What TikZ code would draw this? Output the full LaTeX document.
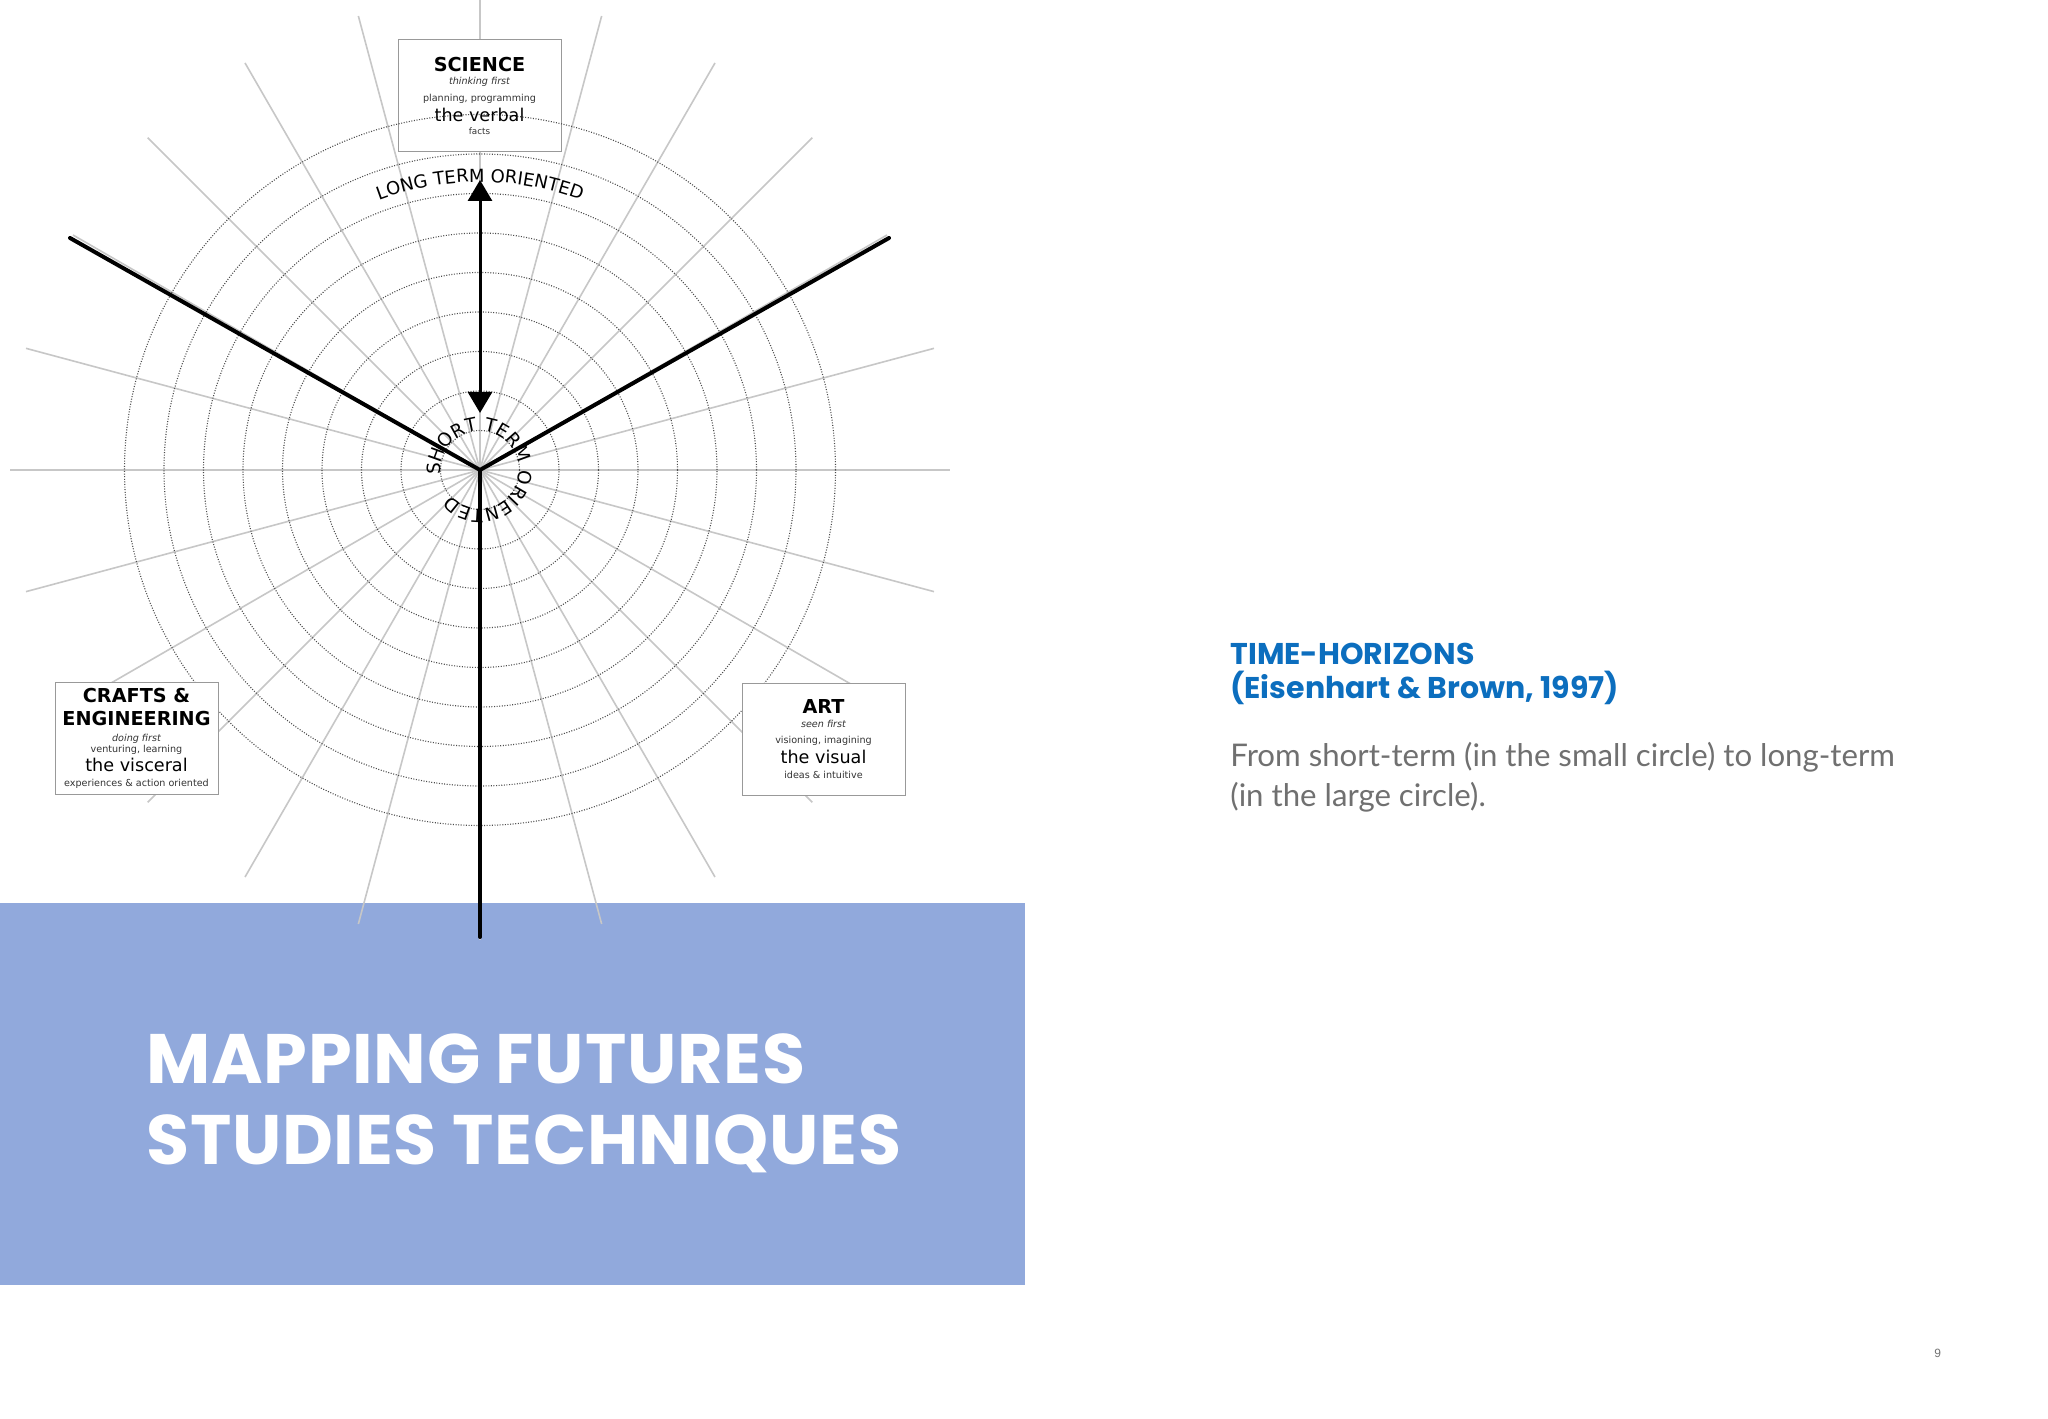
\documentclass[tikz,border=0pt]{standalone}
\usepackage{fontspec}
\setmainfont{DejaVu Sans}
\newfontfamily\popfont{Poppins}
\newfontfamily\popwide{Poppins}[LetterSpace=1.0]
\newfontfamily\latofont{Lato}
\newfontfamily\pgfont{Liberation Sans}
\usetikzlibrary{arrows.meta,decorations.text,calc}
\definecolor{bandblue}{RGB}{145,169,220}
\definecolor{headblue}{RGB}{12,110,190}
\definecolor{bodygray}{RGB}{112,112,112}
\begin{document}
\begin{tikzpicture}[x=0.5pt,y=0.5pt,
  ray/.style={draw=black!22, line width=0.8pt},
  ring/.style={draw=black!70, line width=0.55pt, dash pattern=on 0.5pt off 0.8pt},
  thickln/.style={line width=2pt, line cap=round},
  dblarrow/.style={line width=1.5pt, {Triangle[length=10.5pt,width=12pt]}-{Triangle[length=10.5pt,width=12pt]}},
  card/.style={draw=black!40, line width=0.5pt, fill=white, minimum width=81.5pt, minimum height=56pt, inner sep=0pt},
  cardtitle/.style={anchor=base, inner sep=0pt, font=\bfseries\fontsize{9.6pt}{10pt}\selectfont},
  cardsmall/.style={anchor=base, inner sep=0pt, text=black!80, font=\fontsize{4.8pt}{5pt}\selectfont},
  carditalic/.style={anchor=base, inner sep=0pt, text=black!80, font=\itshape\fontsize{4.8pt}{5pt}\selectfont},
  cardbig/.style={anchor=base, inner sep=0pt, font=\fontsize{8.8pt}{9pt}\selectfont},
]
\useasboundingbox (0,0) rectangle (2048,1418);
\fill[white] (0,0) rectangle (2048,1418);
\fill[bandblue] (0,133) rectangle (1025,515);

\coordinate (C) at (480,948);
% radial rays
\foreach \a in {0,15,...,345} {
  \draw[ray] (C) -- ++(\a:470);
}
% science card (rings show through it)
\node[card] (sci) at (479.5,1322) {};
% dotted rings
\foreach \k in {1,...,9} {
  \draw[ring] (C) circle[radius=39.5*\k];
}
% thick Y
\coordinate (tl) at (70,1180);
\coordinate (tr) at (889,1180);
\coordinate (bot) at (480,481);
\draw[thickln] (tl) -- (C) -- (tr);
\draw[thickln] (C) -- (bot);
% double arrow
\coordinate (alo) at ($(C)+(0,57)$);
\coordinate (ahi) at ($(C)+(0,290)$);
\draw[dblarrow] (alo) -- (ahi);

% cards
\node[card] (cra) at (136.5,679) {};
\node[card] (art) at (823.5,678.5) {};

\node[cardtitle] (sciT) at ($(sci.north)+(0,-31.7)$) {SCIENCE};
\node[carditalic] (sci1) at ($(sci.north)+(0,-45)$) {thinking first};
\node[cardsmall] (sci2) at ($(sci.north)+(0,-61.7)$) {planning, programming};
\node[cardbig] (sci3) at ($(sci.north)+(0,-81.7)$) {the verbal};
\node[cardsmall, font=\fontsize{4.4pt}{5pt}\selectfont] (sci4) at ($(sci.north)+(0,-95)$) {facts};

\node[cardtitle] (craT) at ($(cra.north)+(0,-20.3)$) {CRAFTS \&};
\node[cardtitle] (craT2) at ($(cra.north)+(0,-43)$) {ENGINEERING};
\node[carditalic] (cra1) at ($(cra.north)+(0,-59)$) {doing first};
\node[cardsmall] (cra2) at ($(cra.north)+(0,-69.7)$) {venturing, learning};
\node[cardbig] (cra3) at ($(cra.north)+(0,-88.7)$) {the visceral};
\node[cardsmall] (cra4) at ($(cra.north)+(0,-104.3)$) {experiences \& action oriented};

\node[cardtitle] (artT) at ($(art.north)+(0,-31)$) {ART};
\node[carditalic] (art1) at ($(art.north)+(0,-44.3)$) {seen first};
\node[cardsmall] (art2) at ($(art.north)+(0,-61)$) {visioning, imagining};
\node[cardbig] (art3) at ($(art.north)+(0,-80.3)$) {the visual};
\node[cardsmall] (art4) at ($(art.north)+(0,-95.3)$) {ideas \& intuitive};

% curved labels
\path[decorate, decoration={text along path, text align=center,
  text={|\fontsize{9pt}{9pt}\selectfont|LONG TERM ORIENTED}}]
  ($(C)+(125:288)$) arc[start angle=125, end angle=55, radius=288];
\path[decorate, decoration={text along path, text align=center,
  text={|\fontsize{9.2pt}{9pt}\selectfont|SHORT TERM ORIENTED}}]
  ($(C)+(204:39)$) arc[start angle=204, end angle=-156, radius=39];

% title on band
\node[anchor=base west, inner sep=0pt, text=white, font=\popwide\bfseries\fontsize{35pt}{35pt}\selectfont] (title1) at (146,334) {MAPPING FUTURES};
\node[anchor=base west, inner sep=0pt, text=white, font=\popwide\bfseries\fontsize{35pt}{35pt}\selectfont] (title2) at (146,253) {STUDIES TECHNIQUES};

% right column
\node[anchor=base west, inner sep=0pt, text=headblue, font=\popfont\bfseries\fontsize{15pt}{15pt}\selectfont] (h1) at (1230,753) {TIME-HORIZONS};
\node[anchor=base west, inner sep=0pt, text=headblue, font=\popfont\bfseries\fontsize{15pt}{15pt}\selectfont] (h2) at (1230,719) {(Eisenhart \& Brown, 1997)};
\node[anchor=base west, inner sep=0pt, text=bodygray, font=\latofont\fontsize{15.6pt}{15pt}\selectfont] (b1) at (1230,651) {From short-term (in the small circle) to long-term};
\node[anchor=base west, inner sep=0pt, text=bodygray, font=\latofont\fontsize{15.6pt}{15pt}\selectfont] (b2) at (1230,611) {(in the large circle).};

\node[anchor=base west, inner sep=0pt, text=black!55, font=\pgfont\fontsize{6pt}{6pt}\selectfont] (pg) at (1934,61) {9};
\end{tikzpicture}
\end{document}
